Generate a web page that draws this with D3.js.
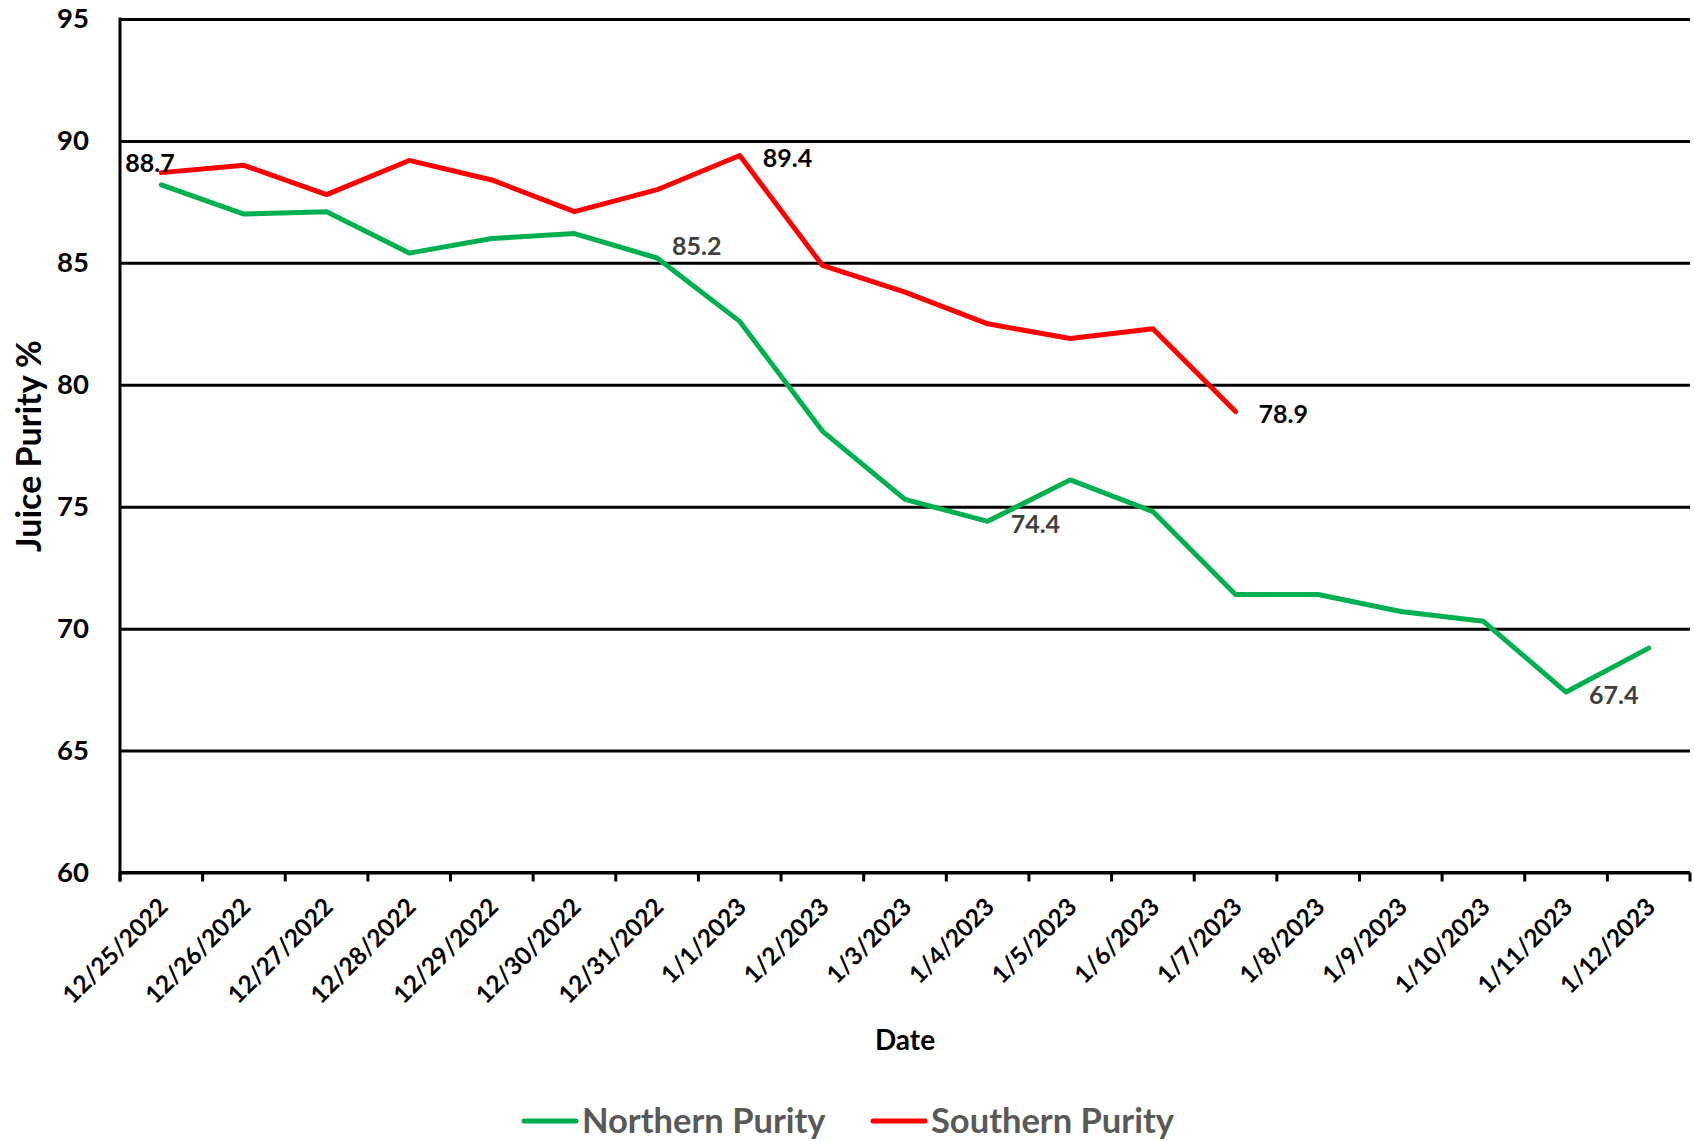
<!DOCTYPE html>
<html>
<head>
<meta charset="utf-8">
<script src="https://cdn.jsdelivr.net/npm/d3@7"></script>
<style>
  body { margin: 0; background: #fff; }
  text { font-family: Lato, "Open Sans", sans-serif; font-weight: bold; }
</style>
</head>
<body>
<script>
// data
var dates = ["12/25/2022", "12/26/2022", "12/27/2022", "12/28/2022", "12/29/2022", "12/30/2022",
  "12/31/2022", "1/1/2023", "1/2/2023", "1/3/2023", "1/4/2023", "1/5/2023", "1/6/2023",
  "1/7/2023", "1/8/2023", "1/9/2023", "1/10/2023", "1/11/2023", "1/12/2023"];
var northern = [88.2, 87.0, 87.1, 85.4, 86.0, 86.2, 85.2, 82.6, 78.1, 75.3, 74.4, 76.1, 74.8,
  71.4, 71.4, 70.7, 70.3, 67.4, 69.2];
var southern = [88.7, 89.0, 87.8, 89.2, 88.4, 87.1, 88.0, 89.4, 84.9, 83.8, 82.5, 81.9, 82.3,
  78.9, null, null, null, null, null];
var yTicks = [60, 65, 70, 75, 80, 85, 90, 95];
var seriesNames = ["Northern Purity", "Southern Purity"];
// which points carry a value label, and where it sits
var northLabels = [["12/31/2022", "aboveRight"], ["1/4/2023", "right"], ["1/11/2023", "right"]];
var southLabels = [["12/25/2022", "aboveLeft"], ["1/1/2023", "right"], ["1/7/2023", "right"]];

var svgWidth = 1694;
var svgHeight = 1141;
var plot = { left: 120, right: 1690, top: 19, bottom: 872.5 };

var svg = d3.select("body").append("svg")
  .attr("width", svgWidth)
  .attr("height", svgHeight);

var x = d3.scaleBand().domain(dates).range([plot.left, plot.right]);
var y = d3.scaleLinear().domain([60, 95]).range([plot.bottom, plot.top]);
var cx = d => x(d) + x.bandwidth() / 2;

// gridlines + y labels
var yAxis = svg.append("g")
  .attr("transform", `translate(${plot.left},0)`)
  .call(d3.axisLeft(y).tickValues(yTicks).tickSize(-(plot.right - plot.left)).tickPadding(31));
yAxis.select(".domain").remove();
yAxis.selectAll(".tick line").attr("stroke", "#000").attr("stroke-width", 3);
yAxis.selectAll(".tick text")
  .attr("fill", "#000")
  .style("font-size", "27.5px");

// left axis line
svg.append("line")
  .attr("x1", plot.left).attr("x2", plot.left)
  .attr("y1", plot.top - 1.5).attr("y2", plot.bottom + 9)
  .attr("stroke", "#000").attr("stroke-width", 3);

// bottom axis line with ticks on band edges
svg.append("line")
  .attr("x1", plot.left).attr("x2", plot.right)
  .attr("y1", plot.bottom).attr("y2", plot.bottom)
  .attr("stroke", "#000").attr("stroke-width", 3);
var edges = dates.map(d => x(d)).concat([plot.right]);
svg.selectAll(".xtick")
  .data(edges)
  .enter().append("line")
  .attr("class", "xtick")
  .attr("x1", d => d).attr("x2", d => d)
  .attr("y1", plot.bottom).attr("y2", plot.bottom + 9)
  .attr("stroke", "#000").attr("stroke-width", 3);

svg.selectAll(".xlabel")
  .data(dates)
  .enter().append("text")
  .attr("class", "xlabel")
  .attr("transform", d => `translate(${cx(d) + 2},${plot.bottom + 30}) rotate(-45)`)
  .attr("text-anchor", "end")
  .attr("dy", "0.35em")
  .style("font-size", "24.5px")
  .attr("fill", "#000")
  .text(d => d);

// axis titles
svg.append("text")
  .attr("transform", `translate(29,446) rotate(-90)`)
  .attr("text-anchor", "middle")
  .attr("dy", "0.35em")
  .style("font-size", "34px")
  .attr("fill", "#000")
  .text("Juice Purity %");

svg.append("text")
  .attr("x", (plot.left + plot.right) / 2)
  .attr("y", 1040)
  .attr("text-anchor", "middle")
  .attr("dy", "0.35em")
  .style("font-size", "28px")
  .attr("fill", "#000")
  .text("Date");

// lines
var line = d3.line()
  .defined(d => d[1] != null)
  .x(d => cx(d[0]))
  .y(d => y(d[1]));

function drawSeries(vals, color) {
  svg.append("path")
    .datum(dates.map((d, i) => [d, vals[i]]))
    .attr("d", line)
    .attr("fill", "none")
    .attr("stroke", color)
    .attr("stroke-width", 5)
    .attr("stroke-linejoin", "round")
    .attr("stroke-linecap", "round");
}
drawSeries(northern, "#00B050");
drawSeries(southern, "#FF0000");

// data labels
var offsets = {
  right: { dx: 23, dy: 3, anchor: "start" },
  aboveRight: { dx: 15, dy: -12, anchor: "start" },
  aboveLeft: { dx: -36, dy: -9, anchor: "start" }
};
function drawLabels(list, vals, color) {
  svg.selectAll(null)
    .data(list)
    .enter().append("text")
    .attr("x", d => cx(d[0]) + offsets[d[1]].dx)
    .attr("y", d => y(vals[dates.indexOf(d[0])]) + offsets[d[1]].dy)
    .attr("dy", "0.35em")
    .attr("text-anchor", d => offsets[d[1]].anchor)
    .style("font-size", "25px")
    .attr("fill", color)
    .text(d => vals[dates.indexOf(d[0])].toFixed(1));
}
drawLabels(northLabels, northern, "#404040");
drawLabels(southLabels, southern, "#000");

// legend
var legendItems = [
  { name: seriesNames[0], color: "#00B050", x: 524 },
  { name: seriesNames[1], color: "#FF0000", x: 873 }
];
var legend = svg.selectAll(".legend")
  .data(legendItems)
  .enter().append("g")
  .attr("class", "legend")
  .attr("transform", d => `translate(${d.x},1121)`);
legend.append("line")
  .attr("x1", 0).attr("x2", 52)
  .attr("stroke", d => d.color)
  .attr("stroke-width", 5)
  .attr("stroke-linecap", "round");
legend.append("text")
  .attr("x", 58)
  .attr("dy", "0.35em")
  .style("font-size", "34.5px")
  .attr("fill", "#595959")
  .text(d => d.name);
</script>
</body>
</html>
